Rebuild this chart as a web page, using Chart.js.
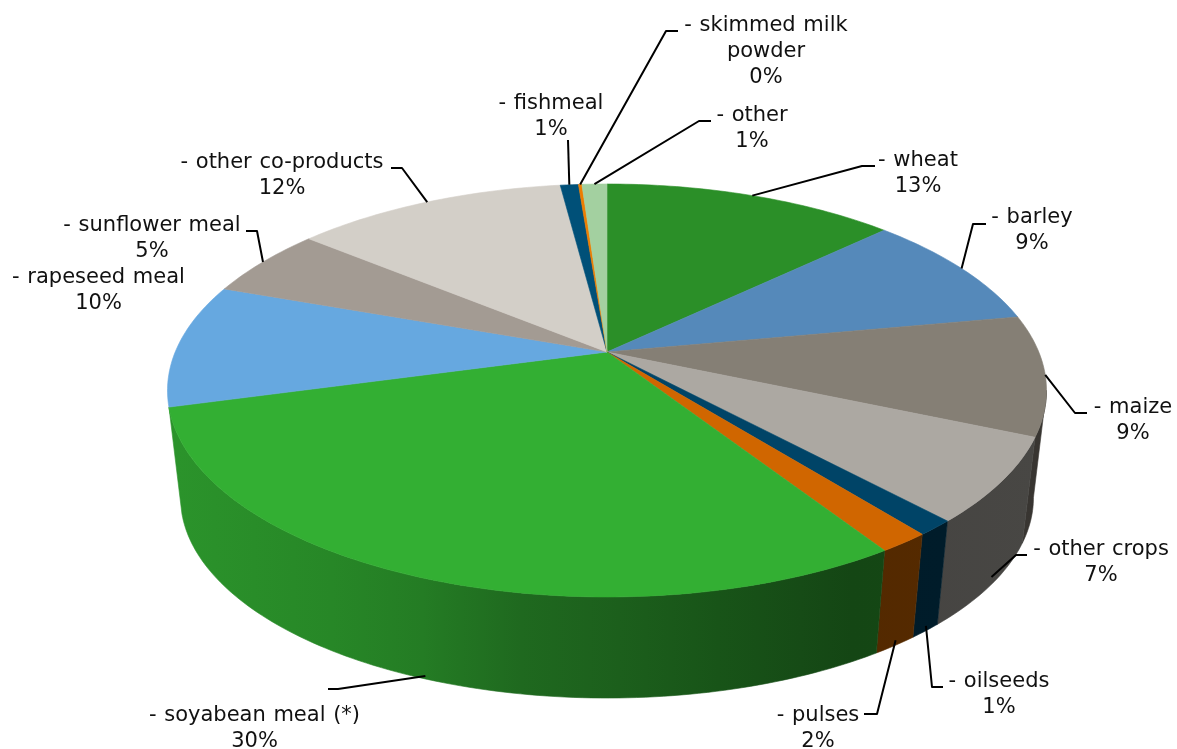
<!DOCTYPE html>
<html>
<head>
<meta charset="utf-8">
<title>Feed ingredients</title>
<script src="https://cdn.jsdelivr.net/npm/chart.js@4/dist/chart.umd.js"></script>
<style>
    html, body { margin: 0; padding: 0; background: #fff; }
    canvas { display: block; }
</style>
</head>
<body>
<canvas id="feedChart" width="1177" height="749"></canvas>
<script>
// values
const categories = ["- wheat", "- barley", "- maize", "- other crops", "- oilseeds", "- pulses", "- soyabean meal (*)",
    "- rapeseed meal", "- sunflower meal", "- other co-products", "- fishmeal", "- skimmed milk\npowder", "- other"];
const shares = [12.9, 9.2, 9.4, 6.6, 1.2, 1.6, 29.9, 9.7, 5.5, 12.0, 0.8, 0.15, 1.1];
const percentLabels = ["13%", "9%", "9%", "7%", "1%", "2%", "30%", "10%", "5%", "12%", "1%", "0%", "1%"];
const colors = ["#2B8F28", "#5589BA", "#857F75", "#ACA8A2", "#004467", "#D06600", "#33AF33",
    "#66A8E0", "#A39B93", "#D3CFC8", "#005078", "#ED7D00", "#A3D0A0"];

// label placement: centre x, first baseline
const labelX = [918, 1032, 1133, 1101, 999, 818, 254.5, 98.5, 152, 282, 551, 766, 752];
const labelY = [166, 223, 413, 555, 687, 721, 721, 283, 231, 168, 109, 31, 121];
const lineGap = 26;

// leader lines: how far down the wall they start (0 = top rim) and where they bend
const leaderWall = [0, 0, 0, 0.92, 0.95, 0.95, 0.97, null, 0, 0, 0, 0, 0];
const leaderBends = [
    [[862, 166], [875, 166]],
    [[973, 224], [986, 224]],
    [[1075, 413], [1087, 413]],
    [[1016, 555], [1027, 555]],
    [[932, 687], [943, 687]],
    [[877, 714], [864, 714]],
    [[338, 689], [328, 689]],
    null,
    [[257, 231], [246, 231]],
    [[402, 168], [391, 168]],
    [[568, 140]],
    [[666, 31], [678, 31]],
    [[699, 121], [711, 121]]
];

// perspective of the disc
const apexX = 607, apexY = 352;
const radiusX = 431.8, radiusY = 199.3, tilt = 0.1864;
const vanishY = 4000, wallScale = 0.9703;
const deg = Math.PI / 180;
const wallFrom = 10.7 * deg, wallTo = 164.7 * deg; // part of the rim that shows a wall

function rimPoint(angle, wall) {
    const X = Math.cos(angle), Y = Math.sin(angle);
    const d = 1 - tilt * Y;
    const x = apexX + radiusX * X / d;
    const y = apexY + radiusY * Y / d;
    const s = 1 - (1 - wallScale) * wall;
    return [apexX + (x - apexX) * s, vanishY + (y - vanishY) * s];
}

// wall gets darker from left to right: [position across the pie, brightness]
const wallShades = [[-1, 0.84], [-0.64, 0.77], [-0.43, 0.71], [-0.2, 0.6], [0.03, 0.54], [0.26, 0.48], [0.45, 0.43], [0.57, 0.4], [1, 0.42]];
function darken(hex, f) {
    const n = parseInt(hex.slice(1), 16);
    return `rgb(${Math.round((n >> 16) * f)},${Math.round(((n >> 8) & 255) * f)},${Math.round((n & 255) * f)})`;
}

// arc element that uses the pie's angles but draws them through the perspective
class PerspectiveArc extends Chart.ArcElement {
    static id = "perspectiveArc";
    draw(ctx) {
        ctx.save();
        ctx.fillStyle = this.options.backgroundColor;
        ctx.strokeStyle = this.options.backgroundColor;
        ctx.lineWidth = 0.6;
        ctx.beginPath();
        ctx.moveTo(apexX, apexY);
        for (let a = this.startAngle; a < this.endAngle; a += deg) {
            const p = rimPoint(a, 0);
            ctx.lineTo(p[0], p[1]);
        }
        const end = rimPoint(this.endAngle, 0);
        ctx.lineTo(end[0], end[1]);
        ctx.closePath();
        ctx.fill();
        ctx.stroke();
        ctx.restore();
    }
}
class PerspectivePie extends Chart.PieController {
    static id = "perspectivePie";
    static defaults = { dataElementType: "perspectiveArc" };
}
Chart.register(PerspectiveArc, PerspectivePie);

const wallPlugin = {
    id: "wall",
    beforeDatasetsDraw(chart) {
        const ctx = chart.ctx;
        ctx.save();
        ctx.lineWidth = 0.6;
        chart.getDatasetMeta(0).data.forEach((arc, i) => {
            const from = Math.max(arc.startAngle, wallFrom);
            const to = Math.min(arc.endAngle, wallTo);
            if (from >= to) return;

            const shade = ctx.createLinearGradient(apexX - 430, 0, apexX + 430, 0);
            wallShades.forEach(s => shade.addColorStop((s[0] + 1) / 2, darken(colors[i], s[1])));
            ctx.fillStyle = shade;
            ctx.strokeStyle = shade;

            ctx.beginPath();
            const first = rimPoint(from, 0);
            ctx.moveTo(first[0], first[1]);
            for (let a = from + deg; a < to; a += deg) {
                const p = rimPoint(a, 0);
                ctx.lineTo(p[0], p[1]);
            }
            let p = rimPoint(to, 0);
            ctx.lineTo(p[0], p[1]);
            p = rimPoint(to, 1);
            ctx.lineTo(p[0], p[1]);
            for (let a = to - deg; a > from; a -= deg) {
                p = rimPoint(a, 1);
                ctx.lineTo(p[0], p[1]);
            }
            p = rimPoint(from, 1);
            ctx.lineTo(p[0], p[1]);
            ctx.closePath();
            ctx.fill();
            ctx.stroke();
        });
        ctx.restore();
    }
};

const labelPlugin = {
    id: "sliceLabels",
    afterDatasetsDraw(chart) {
        const ctx = chart.ctx;
        ctx.save();
        ctx.strokeStyle = "#000";
        ctx.lineWidth = 2;
        ctx.lineJoin = "round";
        chart.getDatasetMeta(0).data.forEach((arc, i) => {
            if (!leaderBends[i]) return;
            const start = rimPoint((arc.startAngle + arc.endAngle) / 2, leaderWall[i]);
            ctx.beginPath();
            ctx.moveTo(start[0], start[1]);
            leaderBends[i].forEach(p => ctx.lineTo(p[0], p[1]));
            ctx.stroke();
        });
        ctx.fillStyle = "#111";
        ctx.font = '21px "DejaVu Sans"';
        ctx.wordSpacing = "1px";
        ctx.textAlign = "center";
        ctx.textBaseline = "alphabetic";
        categories.forEach((name, i) => {
            const lines = name.split("\n").concat(percentLabels[i]);
            lines.forEach((line, j) => ctx.fillText(line, labelX[i], labelY[i] + j * lineGap));
        });
        ctx.restore();
    }
};

new Chart(document.getElementById("feedChart"), {
    type: "perspectivePie",
    data: {
        labels: categories,
        datasets: [{ data: shares, backgroundColor: colors, borderWidth: 0 }]
    },
    options: {
        responsive: false,
        animation: false,
        plugins: { legend: { display: false }, tooltip: { enabled: false } }
    },
    plugins: [wallPlugin, labelPlugin]
});
</script>
</body>
</html>
